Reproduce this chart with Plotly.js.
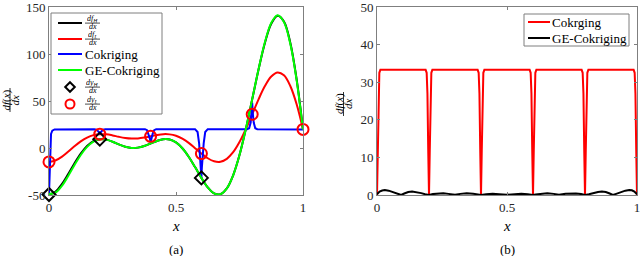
<!DOCTYPE html>
<html>
<head>
<meta charset="utf-8">
<script src="https://cdn.plot.ly/plotly-3.0.1.min.js"></script>
<style>html,body{margin:0;padding:0;background:#fff;}#chart{width:640px;height:256px;}</style>
</head>
<body>
<div id="chart"></div>
<script>
// ---- Panel (a) data ----
const xGrid = [0,0.025,0.05,0.075,0.1,0.125,0.15,0.175,0.2,0.225,0.25,0.275,0.3,0.325,0.35,0.375,0.4,0.425,0.45,0.475,0.5,0.525,0.55,0.575,0.6,0.625,0.65,0.675,0.7,0.725,0.75,0.775,0.8,0.825,0.85,0.875,0.9,0.925,0.95,0.975,1];
const dfH = [-49.5,-46.6,-38.7,-28.0,-16.5,-6.0,2.1,7.3,9.4,8.9,6.7,3.8,1.4,0.1,0.4,2.1,4.8,7.5,9.3,9.0,5.9,-0.3,-9.3,-20.3,-31.8,-41.8,-48.2,-49.1,-43.0,-29.0,-7.5,20.3,51.8,83.6,111.8,132.2,140.8,134.6,111.9,72.9,19.6];
const dfL = [-14.8,-13.3,-9.4,-4.0,1.8,7.0,11.1,13.7,14.7,14.5,13.4,11.9,10.7,10.1,10.2,11.1,12.4,13.8,14.7,14.5,13.0,9.9,5.4,-0.2,-5.9,-10.9,-14.1,-14.6,-11.5,-4.5,6.3,20.2,35.9,51.8,65.9,76.1,80.4,77.3,66.0,46.5,19.8];
const geCok = [-49.0,-47.6,-40.6,-30.0,-18.4,-7.4,1.2,6.9,9.3,8.9,6.7,3.8,1.4,0.1,0.4,2.1,4.8,7.5,9.3,9.0,5.9,-0.3,-9.3,-20.3,-31.8,-41.8,-48.2,-49.1,-43.0,-29.0,-7.5,20.3,51.8,83.8,112.4,133.0,141.2,134.0,110.8,72.0,19.6];
const cokX = [0,0.003,0.005,0.008,0.013,0.022,0.178,0.187,0.193,0.197,0.2,0.203,0.207,0.213,0.222,0.378,0.386,0.392,0.397,0.4,0.403,0.408,0.414,0.422,0.575,0.585,0.591,0.595,0.598,0.6,0.602,0.605,0.609,0.615,0.625,0.78,0.788,0.794,0.798,0.8,0.802,0.806,0.812,0.82,1];
const cokY = [-49.5,-20,5,15,18.5,19.8,20,19.5,18,16.5,15.5,16.5,18,19.5,20,20,19,15,10,6,10,15,19,20,20,17,5,-8,-20,-31.8,-20,-8,5,17,20,20,21,27,38,48,38,27,21,20,19.8];
const sampHX = [0,0.2,0.6];
const sampHY = [-49.5,9.4,-31.8];
const sampLX = [0,0.2,0.4,0.6,0.8,1];
const sampLY = [-14.8,14.7,12.4,-5.9,35.9,19.8];

// ---- Panel (b) data ----
const errCokX = [0,0.003,0.006,0.009,0.013,0.187,0.191,0.194,0.197,0.2,0.203,0.206,0.209,0.213,0.387,0.391,0.394,0.397,0.4,0.403,0.406,0.409,0.413,0.587,0.591,0.594,0.597,0.6,0.603,0.606,0.609,0.613,0.787,0.791,0.794,0.797,0.8,0.803,0.806,0.809,0.813,0.987,0.991,0.994,0.997,1];
const errCokY = [0,12,27,32.5,33.3,33.3,32.5,27,12,0,12,27,32.5,33.3,33.3,32.5,27,12,0,12,27,32.5,33.3,33.3,32.5,27,12,0,12,27,32.5,33.3,33.3,32.5,27,12,0,12,27,32.5,33.3,33.3,32.5,27,12,0];
const errGeX = [0,0.01,0.02,0.03,0.045,0.065,0.08,0.093,0.105,0.12,0.135,0.15,0.17,0.185,0.2,0.215,0.235,0.255,0.275,0.3,0.32,0.345,0.37,0.39,0.4,0.42,0.445,0.47,0.5,0.53,0.555,0.58,0.6,0.61,0.63,0.655,0.68,0.7,0.725,0.745,0.765,0.785,0.8,0.815,0.83,0.85,0.865,0.88,0.895,0.907,0.92,0.935,0.955,0.97,0.98,0.99,1];
const errGeY = [0.2,0.9,1.2,1.3,1.15,0.7,0.3,0,0.4,0.8,0.9,0.8,0.5,0.2,0,0.25,0.42,0.45,0.3,0.05,0.3,0.45,0.35,0.15,0,0.2,0.3,0.2,0.05,0.2,0.3,0.2,0,0.15,0.35,0.45,0.3,0.05,0.3,0.45,0.42,0.25,0,0.2,0.5,0.8,0.9,0.8,0.4,0,0.3,0.7,1.15,1.35,1.25,0.9,0.2];

// ---- Tick labels ----
const xTickVals = [0,0.5,1];
const xTickText = ['0','0.5','1'];
const yaTickVals = [-50,0,50,100,150];
const yaTickText = ['-50','0','50','100','150'];
const ybTickVals = [0,10,20,30,40,50];
const ybTickText = ['0','10','20','30','40','50'];

// ---- Legend labels ----
const legA = [
  {kind:'line', color:'#000000', num:'<i>df<sub>H</sub></i>', den:'<i>dx</i>'},
  {kind:'line', color:'#ff0000', num:'<i>df<sub>L</sub></i>', den:'<i>dx</i>'},
  {kind:'line', color:'#0000ff', text:'Cokriging'},
  {kind:'line', color:'#00ff00', text:'GE-Cokriging'},
  {kind:'diamond', color:'#000000', num:'<i>dy<sub>H</sub></i>', den:'<i>dx</i>'},
  {kind:'circle', color:'#ff0000', num:'<i>dy<sub>L</sub></i>', den:'<i>dx</i>'}
];
const legB = [
  {kind:'line', color:'#ff0000', text:'Cokrging'},
  {kind:'line', color:'#000000', text:'GE-Cokriging'}
];

const FONT = 'Liberation Serif, Times New Roman, serif';
const W = 640, H = 256;
const px = v => v / W;
const py = v => 1 - v / H;

const traces = [
  {x:xGrid, y:dfH, mode:'lines', line:{color:'#000000', width:2, shape:'spline'}, xaxis:'x', yaxis:'y'},
  {x:xGrid, y:dfL, mode:'lines', line:{color:'#ff0000', width:2, shape:'spline'}, xaxis:'x', yaxis:'y'},
  {x:cokX, y:cokY, mode:'lines', line:{color:'#0000ff', width:2}, xaxis:'x', yaxis:'y'},
  {x:xGrid, y:geCok, mode:'lines', line:{color:'#00ff00', width:2, shape:'spline'}, xaxis:'x', yaxis:'y'},
  {x:sampHX, y:sampHY, mode:'markers', marker:{symbol:'diamond-open', color:'#000000', size:10, line:{width:2}}, xaxis:'x', yaxis:'y', cliponaxis:false},
  {x:sampLX, y:sampLY, mode:'markers', marker:{symbol:'circle-open', color:'#ff0000', size:11, line:{width:2}}, xaxis:'x', yaxis:'y', cliponaxis:false},
  {x:errCokX, y:errCokY, mode:'lines', line:{color:'#ff0000', width:2}, xaxis:'x2', yaxis:'y2'},
  {x:errGeX, y:errGeY, mode:'lines', line:{color:'#000000', width:2}, xaxis:'x2', yaxis:'y2'}
];

const axisCommon = {
  showline:true, linecolor:'#7f7f7f', linewidth:1, mirror:'ticks',
  ticks:'inside', ticklen:3, tickcolor:'#7f7f7f', tickwidth:1,
  showgrid:false, zeroline:false, automargin:false, ticklabeloverflow:'allow',
  tickfont:{family:FONT, size:13, color:'#262626'}
};

const yDom = [py(195), py(7)];

const annotations = [
  {x:px(176), y:py(226), text:'<i>x</i>', size:15},
  {x:px(507), y:py(226), text:'<i>x</i>', size:15},
  {x:px(176), y:py(249), text:'(a)', size:13},
  {x:px(507), y:py(249), text:'(b)', size:13}
].map(a => ({xref:'paper', yref:'paper', x:a.x, y:a.y, text:a.text, showarrow:false, xanchor:'center', yanchor:'middle', font:{family:FONT, size:a.size, color:'#000'}}));

// y-axis labels as stacked fractions (rotated)
[[5.5, 14.5, 10, 100], [339, 348, 343.5, 104]].forEach(([xn, xd, xb, yc]) => {
  annotations.push({xref:'paper', yref:'paper', x:px(xn), y:py(yc), text:'<i>df</i>(<i>x</i>)', textangle:-90, showarrow:false, xanchor:'center', yanchor:'middle', font:{family:FONT, size:11, color:'#000'}});
  annotations.push({xref:'paper', yref:'paper', x:px(xd), y:py(yc), text:'<i>dx</i>', textangle:-90, showarrow:false, xanchor:'center', yanchor:'middle', font:{family:FONT, size:11, color:'#000'}});
});

const shapes = [
  {type:'line', xref:'paper', yref:'paper', x0:px(10), x1:px(10), y0:py(88), y1:py(112), line:{color:'#000', width:0.8}},
  {type:'line', xref:'paper', yref:'paper', x0:px(343.5), x1:px(343.5), y0:py(92), y1:py(116), line:{color:'#000', width:0.8}}
];

function drawLegend(items, box, lineX0, lineX1, textX, rowY) {
  shapes.push({type:'rect', xref:'paper', yref:'paper', x0:px(box[0]), x1:px(box[1]), y0:py(box[3]), y1:py(box[2]), fillcolor:'#ffffff', line:{color:'#7f7f7f', width:1}, layer:'above'});
  items.forEach((it, i) => {
    const y = rowY[i];
    const cx = (lineX0 + lineX1) / 2;
    if (it.kind === 'line') {
      shapes.push({type:'line', xref:'paper', yref:'paper', x0:px(lineX0), x1:px(lineX1), y0:py(y), y1:py(y), line:{color:it.color, width:2}, layer:'above'});
    } else if (it.kind === 'diamond') {
      const r = 4.8;
      shapes.push({type:'path', xref:'paper', yref:'paper', path:`M ${px(cx)},${py(y-r)} L ${px(cx+r)},${py(y)} L ${px(cx)},${py(y+r)} L ${px(cx-r)},${py(y)} Z`, line:{color:it.color, width:2}, layer:'above'});
    } else if (it.kind === 'circle') {
      const r = 4.5;
      shapes.push({type:'circle', xref:'paper', yref:'paper', x0:px(cx-r), x1:px(cx+r), y0:py(y+r), y1:py(y-r), line:{color:it.color, width:2}, layer:'above'});
    }
    if (it.text) {
      annotations.push({xref:'paper', yref:'paper', x:px(textX), y:py(y), text:it.text, showarrow:false, xanchor:'left', yanchor:'middle', xshift:-2, font:{family:FONT, size:13, color:'#000'}});
    } else {
      annotations.push({xref:'paper', yref:'paper', x:px(textX+7.5), y:py(y-3.9), text:it.num, showarrow:false, xanchor:'center', yanchor:'middle', height:7.6, borderpad:0, font:{family:FONT, size:8, color:'#000'}});
      annotations.push({xref:'paper', yref:'paper', x:px(textX+7.5), y:py(y+4.0), text:it.den, showarrow:false, xanchor:'center', yanchor:'middle', height:7.6, borderpad:0, font:{family:FONT, size:8, color:'#000'}});
      shapes.push({type:'line', xref:'paper', yref:'paper', x0:px(textX), x1:px(textX+15), y0:py(y+0.1), y1:py(y+0.1), line:{color:'#000', width:0.7}, layer:'above'});
    }
  });
}
drawLegend(legA, [51, 162, 13, 114], 58, 82, 85, [23, 39, 54, 70, 87, 104]);
drawLegend(legB, [524, 629, 14, 46], 528, 550, 552, [22, 38]);

const layout = {
  width:W, height:H,
  margin:{l:0, r:0, t:0, b:0},
  paper_bgcolor:'#ffffff', plot_bgcolor:'#ffffff',
  font:{family:FONT, size:13, color:'#000000'},
  showlegend:false,
  xaxis:Object.assign({}, axisCommon, {domain:[px(49), px(303)], range:[0,1], tickvals:xTickVals, ticktext:xTickText, anchor:'y'}),
  yaxis:Object.assign({}, axisCommon, {domain:yDom, range:[-50,150], tickvals:yaTickVals, ticktext:yaTickText, anchor:'x'}),
  xaxis2:Object.assign({}, axisCommon, {domain:[px(377), px(637)], range:[0,1], tickvals:xTickVals, ticktext:xTickText, anchor:'y2'}),
  yaxis2:Object.assign({}, axisCommon, {domain:yDom, range:[0,50], tickvals:ybTickVals, ticktext:ybTickText, anchor:'x2'}),
  annotations:annotations,
  shapes:shapes
};

Plotly.newPlot('chart', traces, layout, {displayModeBar:false, staticPlot:true});
</script>
</body>
</html>
